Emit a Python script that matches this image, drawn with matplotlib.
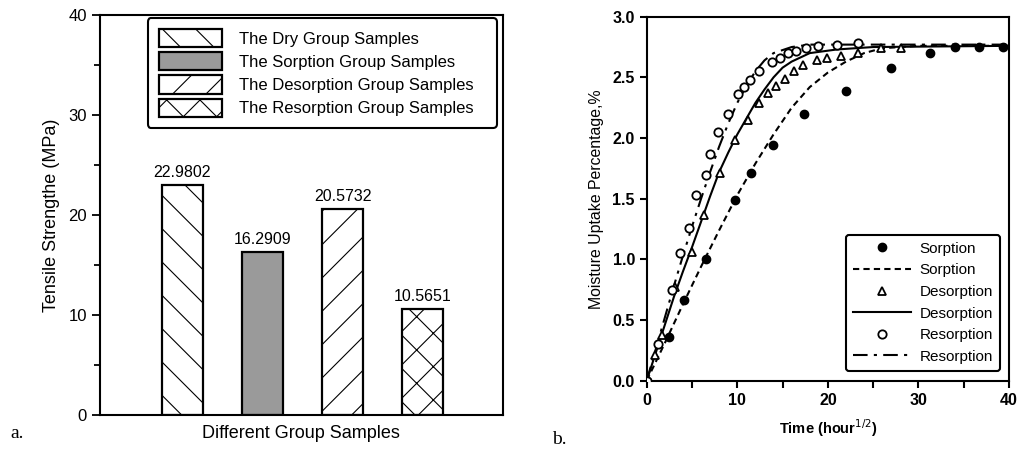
import numpy as np
import matplotlib
matplotlib.use("Agg")
import matplotlib.pyplot as plt
from matplotlib.lines import Line2D
from matplotlib.patches import Patch

plt.rcParams['font.family'] = ['Liberation Sans', 'DejaVu Sans']
plt.rcParams['hatch.linewidth'] = 0.8
plt.rcParams['hatch.color'] = '#444444'

## panel a: tensile strength per group
groups = ["The Dry Group Samples", "The Sorption Group Samples",
          "The Desorption Group Samples", "The Resorption Group Samples"]
strength = [22.9802, 16.2909, 20.5732, 10.5651]
labels_txt = ["22.9802", "16.2909", "20.5732", "10.5651"]

## panel b: moisture uptake vs time
sorp_t = [0, 2.5, 4.15, 6.5, 9.74, 11.5, 13.97, 17.4, 22.0, 27.0, 31.3, 34.0, 36.7, 39.3]
sorp_m = [0, 0.36, 0.665, 1.0, 1.49, 1.71, 1.94, 2.20, 2.39, 2.575, 2.70, 2.75, 2.75, 2.75]

desorp_t = [0, 0.92, 1.65, 3.1, 4.96, 6.36, 8.1, 9.74, 11.2, 12.4, 13.4, 14.26, 15.26,
            16.3, 17.3, 18.75, 19.9, 21.4, 23.3, 25.9, 28.1]
desorp_m = [0, 0.21, 0.376, 0.776, 1.063, 1.365, 1.71, 1.98, 2.15, 2.29, 2.37, 2.43, 2.49,
            2.55, 2.60, 2.64, 2.66, 2.68, 2.70, 2.745, 2.745]

resorp_t = [0, 1.2, 2.8, 3.7, 4.7, 5.4, 6.5, 7.0, 7.83, 9.0, 10.1, 10.7, 11.4, 12.4,
            13.86, 14.7, 15.55, 16.5, 17.57, 18.86, 21.0, 23.3]
resorp_m = [0, 0.30, 0.748, 1.05, 1.26, 1.53, 1.695, 1.87, 2.05, 2.20, 2.36, 2.42, 2.48,
            2.555, 2.63, 2.66, 2.70, 2.72, 2.74, 2.755, 2.77, 2.78]

# fitted curves
fit_sorp_t = [0, 2, 4, 6, 8, 10, 12, 14, 16, 18, 20, 22, 24, 26, 30, 40]
fit_sorp_m = [0, 0.31, 0.63, 0.94, 1.24, 1.53, 1.79, 2.03, 2.25, 2.42, 2.54, 2.63, 2.70, 2.74, 2.76, 2.76]

fit_desorp_t = [0, 1, 2, 3, 4, 5, 6, 7, 8, 9, 10, 11, 12, 13, 14, 15, 16, 18, 21, 25, 40]
fit_desorp_m = [0, 0.23, 0.46, 0.69, 0.90, 1.10, 1.31, 1.52, 1.72, 1.88, 2.03, 2.16, 2.29,
                2.40, 2.50, 2.58, 2.63, 2.70, 2.73, 2.75, 2.76]

fit_resorp_t = [0, 1, 2, 3, 4, 5, 6, 7, 8, 9, 10, 11, 12, 13, 14, 16, 18, 40]
fit_resorp_m = [0, 0.26, 0.52, 0.78, 1.03, 1.27, 1.50, 1.72, 1.93, 2.12, 2.29, 2.43, 2.55,
                2.64, 2.70, 2.75, 2.77, 2.77]


def main():
    fig = plt.figure(figsize=(10.21, 4.49), dpi=100)

    # ---- panel a ----
    ax = fig.add_axes([0.0979, 0.0757, 0.3944, 0.8909])
    hatches = ['\\', '', '/', 'x']
    colors = ['white', '#9a9a9a', 'white', 'white']
    x = np.arange(1, 5)
    bars = ax.bar(x, strength, width=0.51, color=colors, edgecolor='black',
                  linewidth=1.6, hatch=hatches, zorder=2)
    for b, t in zip(bars, labels_txt):
        ax.annotate(t, (b.get_x() + b.get_width() / 2, b.get_height()),
                    xytext=(0, 4), textcoords='offset points',
                    ha='center', va='bottom', fontsize=11.5)
    ax.set_xlim(-0.03, 5.0)
    ax.set_ylim(0, 40)
    ax.set_xticks([])
    ax.set_yticks([0, 10, 20, 30, 40])
    ax.set_yticks([5, 15, 25, 35], minor=True)
    ax.tick_params(axis='y', which='both', direction='out', width=1.3, labelsize=12)
    ax.tick_params(axis='y', which='major', length=6)
    ax.tick_params(axis='y', which='minor', length=4)
    for s in ax.spines.values():
        s.set_linewidth(1.5)
    ax.set_ylabel("Tensile Strengthe (MPa)", fontsize=13, labelpad=6)
    ax.set_xlabel("Different Group Samples", fontsize=13, labelpad=7)

    handles = [Patch(facecolor=c, edgecolor='black', linewidth=1.6, hatch=h)
               for c, h in zip(colors, hatches)]
    # expand mode so the box is as wide as in the original
    leg = ax.legend(handles, groups, loc='upper left', mode='expand',
                    bbox_to_anchor=(147.7 / 1021, 1 - 18.3 / 449 - 0.1, 349 / 1021, 0.1),
                    bbox_transform=fig.transFigure, borderaxespad=0,
                    fontsize=12, handlelength=3.8, handleheight=1.3,
                    labelspacing=0.3, handletextpad=1.0, borderpad=0.65,
                    fancybox=True, framealpha=1, edgecolor='black')
    leg.get_frame().set_linewidth(1.5)

    # ---- panel b ----
    bx = fig.add_axes([0.6334, 0.1521, 0.3549, 0.8107])
    bx.plot(fit_sorp_t, fit_sorp_m, color='black', lw=1.5, dashes=(3, 2))
    bx.plot(fit_desorp_t, fit_desorp_m, color='black', lw=1.5, ls='-')
    bx.plot(fit_resorp_t, fit_resorp_m, color='black', lw=1.5, dashes=(7, 3, 1.5, 3))
    bx.plot(sorp_t, sorp_m, 'o', color='black', ms=6, ls='none', zorder=3)
    bx.plot(desorp_t, desorp_m, '^', mfc='white', mec='black', mew=1.3, ms=5.5,
            ls='none', zorder=3)
    bx.plot(resorp_t, resorp_m, 'o', mfc='white', mec='black', mew=1.3, ms=6,
            ls='none', zorder=3)
    bx.set_xlim(0, 40)
    bx.set_ylim(0, 3.0)
    bx.set_xticks([0, 10, 20, 30, 40])
    bx.set_xticks([5, 15, 25, 35], minor=True)
    bx.set_yticks(np.arange(0, 3.01, 0.5))
    bx.set_yticklabels([f"{v:.1f}" for v in np.arange(0, 3.01, 0.5)])
    bx.tick_params(which='both', direction='out', width=1.5, length=5, labelsize=11.5)
    for lab in bx.get_xticklabels() + bx.get_yticklabels():
        lab.set_fontweight('bold')
    for s in bx.spines.values():
        s.set_linewidth(1.5)
    bx.set_xlabel("Time (hour$^{1/2}$)", fontsize=10.5, fontweight='bold', labelpad=7)
    bx.set_ylabel("Moisture Uptake Percentage,%", fontsize=11.4, labelpad=6)

    h2 = [Line2D([], [], marker='o', color='black', ls='none', ms=6),
          Line2D([], [], color='black', lw=1.5, dashes=(3, 2)),
          Line2D([], [], marker='^', mfc='white', mec='black', mew=1.3, ms=5.5, ls='none'),
          Line2D([], [], color='black', lw=1.5, ls='-'),
          Line2D([], [], marker='o', mfc='white', mec='black', mew=1.3, ms=6, ls='none'),
          Line2D([], [], color='black', lw=1.5, dashes=(7, 3, 1.5, 3))]
    n2 = ["Sorption", "Sorption", "Desorption", "Desorption", "Resorption", "Resorption"]
    leg2 = bx.legend(h2, n2, loc='lower right',
                     bbox_to_anchor=(1000 / 1021, 1 - 370.7 / 449),
                     bbox_transform=fig.transFigure, borderaxespad=0,
                     fontsize=11, handlelength=3.8, labelspacing=0.5,
                     handletextpad=0.6, borderpad=0.45, fancybox=True,
                     framealpha=1, edgecolor='black')
    leg2.get_frame().set_linewidth(1.5)

    fig.text(10 / 1021, 1 - 433 / 449, "a.", family='Liberation Serif', fontsize=14,
             va='center', ha='left')
    fig.text(552 / 1021, 1 - 440 / 449, "b.", family='Liberation Serif', fontsize=14,
             va='center', ha='left')

    fig.savefig("out.png", dpi=100)
    return 0


if __name__ == '__main__':
    import sys
    sys.exit(main())
